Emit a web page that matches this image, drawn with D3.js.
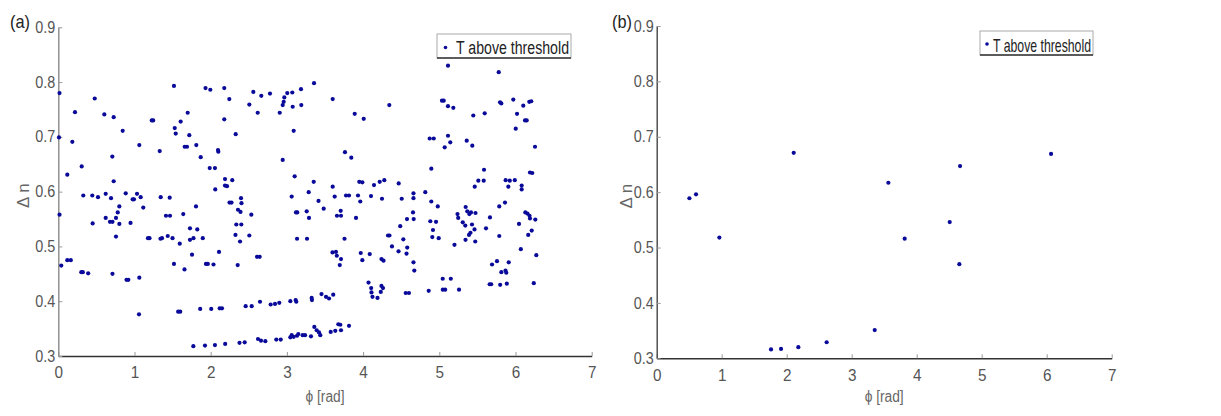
<!DOCTYPE html>
<html><head><meta charset="utf-8">
<script src="https://cdn.jsdelivr.net/npm/d3@7"></script>
<style>
body{margin:0;background:#fff;}
text{font-family:"Liberation Sans Narrow","Arial Narrow","Liberation Sans",Arial,sans-serif;}
</style></head>
<body><svg id="c" width="1221" height="416"></svg>
<script>
// ---- data: panel (a) [phi (rad), delta n] ----
const pointsA = [
[0.016,0.780],[1.518,0.793],[1.932,0.789],[1.995,0.786],[2.178,0.789],[0.478,0.770],[2.244,0.769],
[0.219,0.745],[0.604,0.741],[0.727,0.736],[1.698,0.744],[1.227,0.730],[1.245,0.730],[1.606,0.728],
[2.178,0.732],[0.845,0.711],[1.528,0.716],[1.541,0.706],[0.009,0.699],[0.184,0.691],[1.719,0.703],
[2.328,0.705],[1.063,0.685],[1.659,0.682],[1.689,0.682],[1.811,0.685],[1.331,0.674],[2.096,0.676],
[2.100,0.673],[0.709,0.664],[1.869,0.663],[0.307,0.646],[1.987,0.643],[2.056,0.643],[0.118,0.631],
[0.727,0.619],[2.188,0.623],[2.283,0.621],[2.188,0.611],[2.214,0.610],[2.060,0.604],[0.328,0.593],
[0.446,0.593],[0.521,0.590],[0.622,0.596],[0.692,0.588],[0.885,0.597],[0.976,0.586],[0.993,0.586],
[1.033,0.596],[1.081,0.590],[1.344,0.590],[1.462,0.589],[2.247,0.580],[2.273,0.580],[2.398,0.588],
[2.404,0.579],[1.115,0.571],[0.801,0.573],[1.807,0.573],
[0.016,0.558],[2.358,0.567],[2.391,0.563],[2.533,0.558],[0.451,0.542],[0.622,0.552],[0.678,0.545],
[0.711,0.545],[0.757,0.552],[0.780,0.562],[0.801,0.541],[0.948,0.543],[1.413,0.556],[1.466,0.556],
[1.640,0.559],[0.757,0.518],[1.728,0.533],[1.824,0.531],[2.336,0.540],[2.402,0.540],[1.177,0.515],
[1.197,0.515],[1.341,0.514],[1.361,0.515],[1.436,0.519],[1.499,0.515],[1.594,0.505],[1.728,0.512],
[1.774,0.515],[1.896,0.515],[2.325,0.521],[2.385,0.509],[2.507,0.520],[2.109,0.490],[0.039,0.465],
[0.118,0.475],[0.164,0.475],[1.755,0.485],[1.518,0.468],[1.656,0.458],[1.938,0.468],[1.962,0.468],
[2.037,0.467],[2.354,0.466],[0.302,0.453],[0.322,0.453],[0.392,0.451],[0.711,0.450],[0.895,0.439],
[0.919,0.439],[1.063,0.443],[1.059,0.376],[1.573,0.381],[1.600,0.381],[1.862,0.386],[2.007,0.386],
[2.118,0.387],[2.148,0.387],[1.772,0.318],[1.925,0.319],[2.056,0.320],[2.190,0.322],[2.378,0.324],
[2.446,0.325],[2.621,0.331],[2.660,0.328],[2.717,0.327],[2.861,0.330],[2.919,0.330],[3.045,0.334],
[3.063,0.338],[3.089,0.335],[3.133,0.337],[3.150,0.340],[3.207,0.338],[3.238,0.338],[3.316,0.336],
[3.360,0.353],[3.391,0.347],[3.421,0.343],[3.438,0.338],[3.575,0.344],[3.635,0.346],[3.675,0.358],
[3.701,0.357],[3.710,0.347],[3.815,0.355],
[2.459,0.391],[2.538,0.391],[2.647,0.399],[2.787,0.394],[2.844,0.395],[2.900,0.397],[3.045,0.400],
[3.115,0.402],[3.123,0.399],[3.325,0.406],[3.329,0.402],[3.454,0.413],[3.513,0.408],[3.553,0.405],
[3.608,0.412],
[2.608,0.481],[2.643,0.481],[3.415,0.583],[3.483,0.569],[3.963,0.582],[3.119,0.562],[3.136,0.562],
[3.260,0.564],[3.290,0.552],[3.657,0.556],[3.710,0.556],[3.706,0.565],[3.907,0.552],[3.133,0.514],
[3.264,0.514],[3.756,0.514],[3.598,0.489],[3.644,0.490],[3.655,0.483],[3.710,0.477],[3.694,0.466],
[3.969,0.488],[4.087,0.486],[3.990,0.475],[4.241,0.477],[4.268,0.474],[4.327,0.520],[4.346,0.520],
[4.379,0.500],[4.465,0.491],[4.487,0.537],[4.528,0.513],[4.576,0.550],[4.655,0.562],[4.664,0.550],
[4.579,0.498],[4.570,0.487],[4.661,0.471],[4.672,0.456],[4.071,0.434],[4.106,0.424],[4.110,0.416],
[4.123,0.408],[4.189,0.406],[4.232,0.417],[4.241,0.428],[4.261,0.424],[4.559,0.415],[4.602,0.415],
[3.356,0.798],[2.559,0.782],[2.664,0.775],[2.778,0.779],[3.005,0.780],[3.071,0.781],[2.966,0.772],
[3.185,0.787],[2.507,0.759],[2.958,0.764],[2.945,0.758],[3.076,0.755],[3.189,0.758],[3.601,0.769],
[2.617,0.744],[2.906,0.744],[3.890,0.742],[4.008,0.733],[4.344,0.758],[3.089,0.711],[3.762,0.672],
[3.845,0.662],[2.945,0.658],[3.102,0.628],[3.352,0.618],[3.601,0.609],[3.950,0.618],[3.990,0.617],
[4.143,0.612],[4.218,0.618],[4.278,0.621],[4.467,0.615],[4.661,0.597],[4.661,0.588],[3.063,0.591],
[3.286,0.599],[3.627,0.591],[3.776,0.593],[3.815,0.593],[3.933,0.593],[4.104,0.592],[4.248,0.587],
[4.507,0.587],
[5.114,0.830],[5.780,0.818],[5.035,0.766],[5.058,0.766],[5.114,0.756],[5.184,0.753],[5.797,0.763],
[5.814,0.761],[5.971,0.768],[6.102,0.757],[6.181,0.764],[6.207,0.765],[5.446,0.739],[5.596,0.743],
[6.020,0.742],[6.125,0.730],[6.147,0.730],[6.003,0.715],[4.874,0.697],[4.927,0.697],[5.114,0.702],
[5.144,0.690],[5.071,0.681],[5.360,0.693],[5.433,0.684],[6.256,0.682],[4.895,0.642],[5.587,0.640],
[5.512,0.620],[5.583,0.620],[5.465,0.609],[5.871,0.621],[5.925,0.620],[5.991,0.621],[5.906,0.609],
[6.081,0.611],[6.081,0.604],[6.190,0.635],[6.220,0.634],[4.816,0.599],[4.895,0.582],[5.862,0.580],
[4.980,0.573],[5.346,0.572],[5.787,0.573],
[4.882,0.546],[4.957,0.545],[4.917,0.530],[4.908,0.517],[4.992,0.515],[5.239,0.559],[5.248,0.552],
[5.367,0.564],[5.394,0.559],[5.416,0.562],[5.475,0.561],[5.308,0.544],[5.341,0.538],[5.429,0.540],
[5.462,0.531],[5.409,0.525],[5.390,0.521],[5.344,0.512],[5.472,0.509],[5.199,0.503],[5.613,0.533],
[5.665,0.553],[5.787,0.519],[6.046,0.541],[6.070,0.495],[6.129,0.562],[6.157,0.560],[6.184,0.556],
[6.190,0.551],[6.260,0.549],[6.213,0.529],[6.167,0.521],[6.273,0.484],[5.692,0.467],[5.757,0.473],
[5.911,0.471],[5.814,0.453],[5.869,0.456],[5.879,0.452],[5.661,0.431],[5.681,0.431],[5.799,0.430],
[5.886,0.432],[6.240,0.433],[4.861,0.419],[5.045,0.441],[5.151,0.441],[5.046,0.421],[5.077,0.421],
[5.259,0.421]
];
// ---- data: panel (b) ----
const pointsB = [
[0.503,0.589],[0.605,0.596],[0.964,0.518],[1.759,0.316],[1.913,0.317],[2.108,0.671],[2.179,0.320],
[2.615,0.329],[3.354,0.351],[3.564,0.617],[3.815,0.516],[4.508,0.546],[4.656,0.470],[4.667,0.647],
[6.067,0.669]
];
const xTicks = [0,1,2,3,4,5,6,7];
const yTicks = [0.3,0.4,0.5,0.6,0.7,0.8,0.9];
const panelLabels = ["(a)","(b)"];
const legendText = "T above threshold";
const xLabel = "\u03D5 [rad]";
const yLabel = "\u0394 n";

const svg = d3.select("#c");
const dotColor = "#0a0a9a";

const panels = [
  {pts: pointsA, x: d3.scaleLinear([0,7],[58.3,591.7]), y: d3.scaleLinear([0.3,0.9],[356,27.3]),
   label: panelLabels[0], lx: 10, leg: {x:437, y:34, w:134, h:24, fs:18, tl:113, dx:8.5, dy:13.5, by:20}, yAxisColor:"#8a8a8a", ylabX: 29},
  {pts: pointsB, x: d3.scaleLinear([0,7],[656.7,1111.7]), y: d3.scaleLinear([0.3,0.9],[358.3,26]),
   label: panelLabels[1], lx: 612, leg: {x:980, y:31, w:113, h:24, fs:18.5, tl:98, dx:7, dy:13, by:20.5}, yAxisColor:"#444", ylabX: 632}
];

panels.forEach(p => {
  const g = svg.append("g");
  const [x0,x1] = p.x.range(), [y0,y1] = p.y.range();
  // x axis
  const gx = g.append("g").attr("transform", `translate(0,${y0})`)
    .call(d3.axisBottom(p.x).tickValues(xTicks).tickFormat(d3.format("d")).tickSizeInner(-4).tickSizeOuter(0).tickPadding(11));
  gx.select(".domain").attr("stroke","#333").attr("stroke-width",1.6);
  gx.selectAll(".tick line").attr("stroke","#999");
  gx.selectAll(".tick text").attr("fill","#555").attr("font-size",16)
    .attr("textLength",8.5).attr("lengthAdjust","spacingAndGlyphs");
  // y axis
  const gy = g.append("g").attr("transform", `translate(${x0},0)`)
    .call(d3.axisLeft(p.y).tickValues(yTicks).tickFormat(d3.format(".1f")).tickSizeInner(-4).tickSizeOuter(0).tickPadding(3));
  gy.select(".domain").attr("stroke",p.yAxisColor).attr("stroke-width",1.4);
  gy.selectAll(".tick line").attr("stroke","#999");
  gy.selectAll(".tick text").attr("fill","#555").attr("font-size",16)
    .attr("textLength",20).attr("lengthAdjust","spacingAndGlyphs");
  // points
  g.append("g").selectAll("circle").data(p.pts).join("circle")
    .attr("cx", d => p.x(d[0])).attr("cy", d => p.y(d[1])).attr("r", 2.1).attr("fill", dotColor);
  // axis labels
  g.append("text").attr("x", (x0+x1)/2).attr("y", 402).attr("text-anchor","middle")
    .attr("fill","#666").attr("font-size",16).attr("textLength",39).attr("lengthAdjust","spacingAndGlyphs").text(xLabel);
  g.append("text").attr("transform", `translate(${p.ylabX},${(y0+y1)/2+4}) rotate(-90)`)
    .attr("text-anchor","middle").attr("fill","#666").attr("font-size",17).text(yLabel);
  // panel label
  g.append("text").attr("x", p.lx).attr("y", 28).attr("fill","#222").attr("font-size",19)
    .attr("textLength",20).attr("lengthAdjust","spacingAndGlyphs").text(p.label);
  // legend
  const L = p.leg;
  g.append("rect").attr("x",L.x).attr("y",L.y).attr("width",L.w).attr("height",L.h)
    .attr("fill","#fff").attr("stroke","#aaa").attr("stroke-width",1);
  g.append("line").attr("x1",L.x).attr("x2",L.x+L.w).attr("y1",L.y+L.h).attr("y2",L.y+L.h).attr("stroke","#333").attr("stroke-width",1.5);
  g.append("circle").attr("cx",L.x+L.dx).attr("cy",L.y+L.dy).attr("r",1.8).attr("fill",dotColor);
  g.append("text").attr("x",L.x+L.w-2-L.tl).attr("y",L.y+L.by)
    .attr("fill","#222").attr("font-size",L.fs).attr("textLength",L.tl).attr("lengthAdjust","spacingAndGlyphs").text(legendText);
});
</script></body></html>
